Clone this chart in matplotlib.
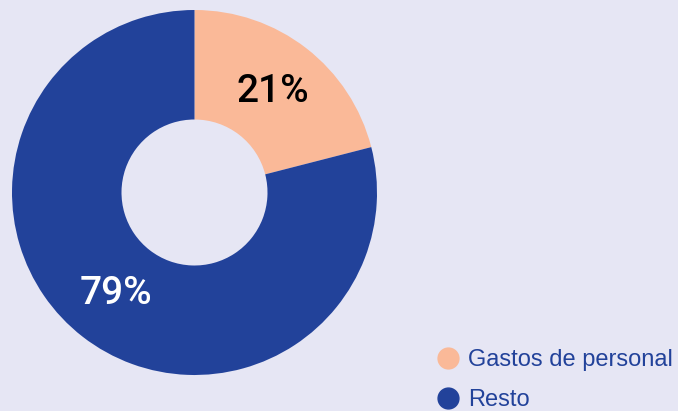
import matplotlib
matplotlib.use("Agg")
import matplotlib.pyplot as plt
from matplotlib.lines import Line2D
import numpy as np

categories = ["Gastos de personal", "Resto"]
values = [21, 79]
labels = ["21%", "79%"]
colors = ["#FAB998", "#22429A"]
label_colors = ["black", "white"]

BG = "#E6E6F4"
W, H = 678, 411
fig = plt.figure(figsize=(W / 100, H / 100), dpi=100, facecolor=BG)

cx, cy, r = 194.5, 411 - 192.5, 182.5
ax = fig.add_axes([(cx - r) / W, (cy - r) / H, 2 * r / W, 2 * r / H])
ax.set_facecolor(BG)
wedges, _ = ax.pie(values, colors=colors, startangle=90, counterclock=False,
                   radius=1.0, wedgeprops=dict(width=0.6, linewidth=0))
cum = np.cumsum([0] + values)
for i, (lab, col) in enumerate(zip(labels, label_colors)):
    mid = 90 - (cum[i] + values[i] / 2) / sum(values) * 360
    rr = 0.70
    ax.text(rr * np.cos(np.radians(mid)), rr * np.sin(np.radians(mid)), lab,
            ha="center", va="center", color=col, fontsize=28, fontweight="medium",
            family=["Roboto", "Liberation Sans", "DejaVu Sans"])
ax.set_xlim(-1, 1)
ax.set_ylim(-1, 1)
ax.set_aspect("equal")
ax.axis("off")

handles = [Line2D([], [], marker="o", linestyle="none", markersize=15,
                  markerfacecolor=c, markeredgecolor=c) for c in colors]
leg = fig.legend(handles, categories, loc="lower left",
                 bbox_to_anchor=(431 / W, -5 / H), frameon=False,
                 prop=dict(family="Liberation Sans", size=17),
                 labelcolor="#22429A", handletextpad=0.38, labelspacing=0.76,
                 handlelength=1.0, borderaxespad=0, borderpad=0.2)

fig.savefig("out.png", dpi=100, facecolor=BG)
